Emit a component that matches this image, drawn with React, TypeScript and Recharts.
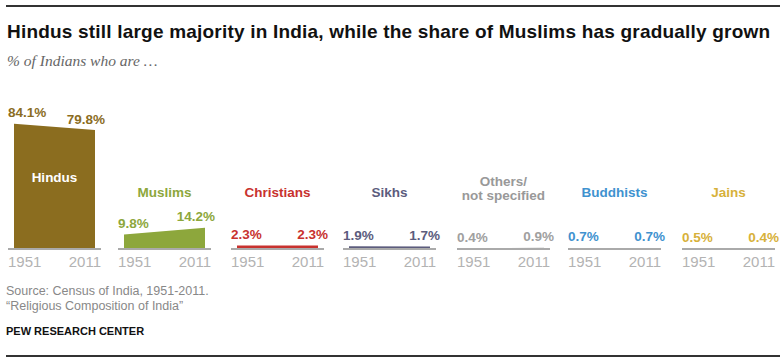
import React from 'react';
import { AreaChart, Area, XAxis, YAxis, LabelList } from 'recharts';

const religions = ['Hindus', 'Muslims', 'Christians', 'Sikhs', 'Others/\nnot specified', 'Buddhists', 'Jains'];
const years = ['1951', '2011'];
const share1951 = [84.1, 9.8, 2.3, 1.9, 0.4, 0.7, 0.5];
const share2011 = [79.8, 14.2, 2.3, 1.7, 0.9, 0.7, 0.4];
const colors = ['#8B6D1F', '#8DA73C', '#C8322E', '#5C5C7D', '#A0A0A0', '#3F92CF', '#D7B13A'];

const SANS = '"Liberation Sans", Arial, sans-serif';
const panelLeft = [8, 118, 231, 343, 457, 568, 682];
const PLOT_W = 93;
const M_LEFT = 10;
const M_RIGHT = 14;
const CHART_TOP = 90;

const renderTick = (props: any) => {
  const { x, y, index, payload } = props;
  const first = index === 0;
  return (
    <text
      x={first ? x - 6 : x + 6}
      y={y + 18}
      textAnchor={first ? 'start' : 'end'}
      fill="#b3b3b3"
      fontSize={15}
      fontFamily={SANS}
    >
      {payload.value}
    </text>
  );
};

const makeLabel = (color: string) => (props: any) => {
  const { x, y, index, value } = props;
  const first = index === 0;
  return (
    <text
      x={first ? x - 6 : x + 10}
      y={y - 6.5}
      textAnchor={first ? 'start' : 'end'}
      fill={color}
      fontSize={13.5}
      fontWeight={700}
      fontFamily={SANS}
    >
      {`${value}%`}
    </text>
  );
};

function Panel({ i }: { i: number }) {
  const data = years.map((year, k) => ({ year, v: k === 0 ? share1951[i] : share2011[i] }));
  const color = colors[i];
  return (
    <div style={{ position: 'absolute', left: panelLeft[i] - M_LEFT, top: CHART_TOP }}>
      <AreaChart
        width={PLOT_W + M_LEFT + M_RIGHT}
        height={189}
        data={data}
        margin={{ top: 10, right: M_RIGHT, bottom: 0, left: M_LEFT }}
      >
        <YAxis hide domain={[0, 100]} />
        <XAxis
          dataKey="year"
          padding={{ left: 6, right: 6 }}
          height={30}
          tickLine={false}
          tickSize={0}
          tickMargin={0}
          interval={0}
          axisLine={{ stroke: '#aaaaaa', strokeWidth: 2 }}
          tick={renderTick}
        />
        <Area
          type="linear"
          dataKey="v"
          stroke="none"
          fill={color}
          fillOpacity={1}
          isAnimationActive={false}
        >
          <LabelList dataKey="v" content={makeLabel(color)} />
        </Area>
      </AreaChart>
    </div>
  );
}

export default function App() {
  return (
    <div
      style={{
        position: 'absolute',
        left: 0,
        top: 0,
        width: 784,
        height: 362,
        background: '#fff',
        overflow: 'hidden',
        fontFamily: SANS,
      }}
    >
      <div style={{ position: 'absolute', left: 6, top: 5, width: 774, height: 2, background: '#333' }} />
      <div
        style={{
          position: 'absolute',
          left: 7,
          top: 21,
          fontSize: 19,
          lineHeight: '22px',
          letterSpacing: '0.2px',
          fontWeight: 700,
          color: '#111',
          whiteSpace: 'nowrap',
        }}
      >
        Hindus still large majority in India, while the share of Muslims has gradually grown
      </div>
      <div
        style={{
          position: 'absolute',
          left: 7,
          top: 52,
          fontSize: 15.5,
          lineHeight: '18px',
          fontStyle: 'italic',
          fontFamily: '"Liberation Serif", serif',
          color: '#666',
          whiteSpace: 'nowrap',
        }}
      >
        % of Indians who are …
      </div>

      {religions.map((_, i) => (
        <Panel key={i} i={i} />
      ))}

      {religions.map((name, i) => {
        const multi = name.includes('\n');
        const isHindu = i === 0;
        const lh = multi ? 14 : 15;
        const center = isHindu ? 177 : multi ? 189 : 192;
        const lines = multi ? 2 : 1;
        return (
          <div
            key={name}
            style={{
              position: 'absolute',
              left: panelLeft[i] - 20,
              width: PLOT_W + 40,
              top: center - (lh * lines) / 2,
              textAlign: 'center',
              fontSize: 13.5,
              lineHeight: `${lh}px`,
              fontWeight: 700,
              color: isHindu ? '#fff' : colors[i] === '#A0A0A0' ? '#999' : colors[i],
              whiteSpace: 'pre-line',
            }}
          >
            {name}
          </div>
        );
      })}

      <div
        style={{
          position: 'absolute',
          left: 6,
          top: 284,
          fontSize: 12.5,
          lineHeight: '15px',
          color: '#888',
          whiteSpace: 'nowrap',
        }}
      >
        Source: Census of India, 1951-2011.
        <br />
        “Religious Composition of India”
      </div>
      <div
        style={{
          position: 'absolute',
          left: 6,
          top: 324,
          fontSize: 11,
          lineHeight: '14px',
          fontWeight: 700,
          color: '#111',
          whiteSpace: 'nowrap',
        }}
      >
        PEW RESEARCH CENTER
      </div>
      <div style={{ position: 'absolute', left: 6, top: 355, width: 774, height: 2, background: '#333' }} />
    </div>
  );
}
